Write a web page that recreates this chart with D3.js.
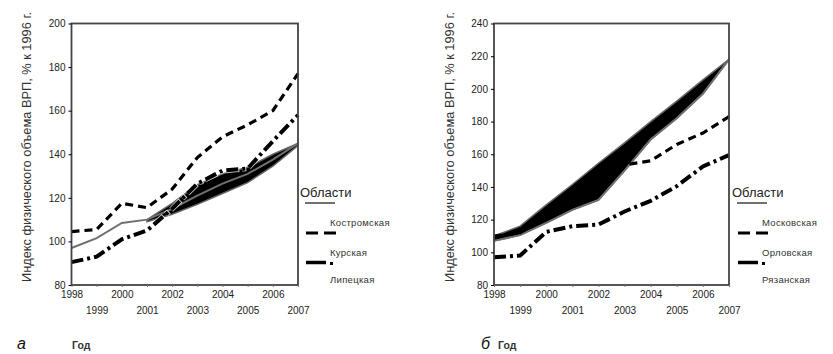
<!DOCTYPE html>
<html>
<head>
<meta charset="utf-8">
<script src="https://cdn.jsdelivr.net/npm/d3@7"></script>
<style>
  body { margin: 0; background: #fff; }
  svg { font-family: "Liberation Sans", Arial, sans-serif; }
</style>
</head>
<body>
<div id="chart"></div>
<script>
const years = [1998, 1999, 2000, 2001, 2002, 2003, 2004, 2005, 2006, 2007]

// panel a
const kostroma = [104.5, 105.5, 117.5, 115.5, 124, 138.5, 148, 153.5, 160, 177]
const kursk = [90.5, 93, 101, 105, 115, 126.5, 132.5, 133.5, 146, 158]
const lipetsk = [97, 101.5, 108.5, 110, 115, 121, 126.5, 131, 137.5, 145]
const bandATop = [null, null, null, 110, 117.5, 126, 131, 134, 140, 145]
const bandABottom = [null, null, null, 109, 112.5, 117, 122, 127, 134.5, 144]

// panel б
const moscow = [110, 112, 122, 131, 141, 153.5, 156, 166, 173, 183]
const orel = [97, 98, 112.5, 116, 117, 125, 131.5, 140.5, 152.5, 159.5]
const ryazan = [107, 110.5, 118, 126, 132, 150, 169, 182, 197, 218]
const bandBTop = [110, 116, 129, 141.5, 154.5, 167, 180, 192.5, 205.5, 218]
const bandBBottom = [107, 110.5, 118, 126, 132, 150, 169, 182, 197, 218]

const yTitle = 'Индекс физического объема ВРП, % к 1996 г.'

const svg = d3.select('#chart').append('svg')
  .attr('width', 833)
  .attr('height', 354)

function panel(opt) {
  const x = d3.scaleLinear().domain([1998, 2007]).range([opt.left, opt.right])
  const y = d3.scaleLinear().domain(opt.yDomain).range([285, 23.5])
  const g = svg.append('g')

  // black band
  const area = d3.area()
    .defined((d, i) => opt.bandTop[i] != null)
    .x((d, i) => x(years[i]))
    .y0((d, i) => y(opt.bandBottom[i]))
    .y1((d, i) => y(opt.bandTop[i]))
  g.append('path')
    .datum(years)
    .attr('d', area)
    .attr('fill', '#000')
    .attr('stroke', '#666')
    .attr('stroke-width', 1.5)

  const line = vals => d3.line()
    .x((d, i) => x(years[i]))
    .y((d, i) => y(vals[i]))(years)

  // solid grey
  g.append('path').attr('d', line(opt.solid))
    .attr('fill', 'none').attr('stroke', '#707070').attr('stroke-width', 2)
  // dashed
  g.append('path').attr('d', line(opt.dashed))
    .attr('fill', 'none').attr('stroke', '#000').attr('stroke-width', 3.2)
    .attr('stroke-dasharray', '8,5')
  // dash-dot with white halo
  g.append('path').attr('d', line(opt.dashdot))
    .attr('fill', 'none').attr('stroke', '#fff').attr('stroke-width', 5.5)
    .attr('stroke-dasharray', '13,3,4,3').attr('stroke-opacity', 0.8)
  g.append('path').attr('d', line(opt.dashdot))
    .attr('fill', 'none').attr('stroke', '#000').attr('stroke-width', 4)
    .attr('stroke-dasharray', '12,4,3,4')

  // frame
  g.append('rect')
    .attr('x', opt.left).attr('y', 23.5)
    .attr('width', opt.right - opt.left).attr('height', 285 - 23.5)
    .attr('fill', 'none').attr('stroke', '#444').attr('stroke-width', 1.8)

  // axes
  const yAxis = g.append('g')
    .attr('transform', `translate(${opt.left},0)`)
    .call(d3.axisLeft(y).tickValues(opt.yTicks).tickSize(3).tickPadding(3))
  yAxis.select('.domain').remove()
  yAxis.selectAll('text').attr('font-size', 10).attr('fill', '#222')
    .attr('font-family', '"Liberation Sans", Arial, sans-serif')

  const xAxis = g.append('g')
    .attr('transform', 'translate(0,285)')
    .call(d3.axisBottom(x).tickValues(years).tickFormat(d3.format('d')).tickSize(2).tickPadding(4))
  xAxis.select('.domain').remove()
  xAxis.selectAll('line').attr('stroke', '#777')
  xAxis.selectAll('text')
    .attr('font-size', 10).attr('fill', '#222')
    .attr('font-family', '"Liberation Sans", Arial, sans-serif')
    .attr('dy', d => (d % 2 === 0 ? '0.71em' : '2.3em'))

  // y title
  g.append('text')
    .attr('transform', `translate(${opt.titleX},147) rotate(-90)`)
    .attr('text-anchor', 'middle')
    .attr('font-size', 12.8).attr('fill', '#333')
    .text(yTitle)

  // legend
  const lg = g.append('g').attr('transform', `translate(${opt.legendX},0)`)
  lg.append('text').attr('x', 0).attr('y', 197).attr('font-size', 13).attr('fill', '#222').text('Области')
  lg.append('line').attr('x1', 5).attr('x2', 35).attr('y1', 203).attr('y2', 203)
    .attr('stroke', '#707070').attr('stroke-width', 2)
  lg.append('line').attr('x1', 6).attr('x2', 36).attr('y1', 233).attr('y2', 233)
    .attr('stroke', '#000').attr('stroke-width', 3.2).attr('stroke-dasharray', '12,6')
  lg.append('line').attr('x1', 6).attr('x2', 26).attr('y1', 262.5).attr('y2', 262.5)
    .attr('stroke', '#000').attr('stroke-width', 3.5)
  lg.append('rect').attr('x', 30).attr('y', 262).attr('width', 3).attr('height', 3).attr('fill', '#000')
  opt.names.forEach((n, i) => {
    lg.append('text')
      .attr('x', opt.labelDx).attr('y', [226, 256, 283][i])
      .attr('font-size', 9.5).attr('fill', '#333')
      .attr('letter-spacing', 0.3)
      .text(n)
  })

  // panel letter + axis name
  g.append('text').attr('x', opt.letterX).attr('y', 349)
    .attr('font-size', 16).attr('font-style', 'italic').attr('fill', '#111').text(opt.letter)
  g.append('text').attr('x', opt.godX).attr('y', 349)
    .attr('font-size', 10.5).attr('font-weight', 'bold').attr('fill', '#333').text('Год')
}

panel({
  left: 71.5, right: 298, yDomain: [80, 200], yTicks: [80, 100, 120, 140, 160, 180, 200],
  solid: lipetsk, dashed: kostroma, dashdot: kursk,
  bandTop: bandATop, bandBottom: bandABottom,
  titleX: 31, legendX: 300, labelDx: 30,
  names: ['Костромская', 'Курская', 'Липецкая'],
  letter: 'а', letterX: 17, godX: 72
})

panel({
  left: 494, right: 729, yDomain: [80, 240], yTicks: [80, 100, 120, 140, 160, 180, 200, 220, 240],
  solid: ryazan, dashed: moscow, dashdot: orel,
  bandTop: bandBTop, bandBottom: bandBBottom,
  titleX: 454, legendX: 732, labelDx: 30,
  names: ['Московская', 'Орловская', 'Рязанская'],
  letter: 'б', letterX: 481, godX: 498
})
</script>
</body>
</html>
